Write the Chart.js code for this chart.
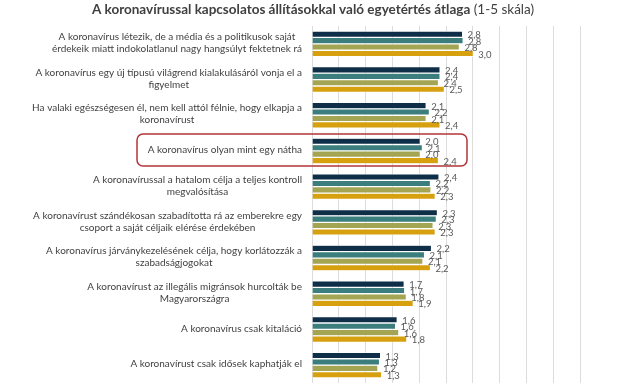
<!DOCTYPE html>
<html>
<head>
<meta charset="utf-8">
<script src="https://cdn.jsdelivr.net/npm/chart.js@4"></script>
<style>
html,body{margin:0;padding:0;background:#fff;overflow:hidden;}
#wrap{width:640px;height:384px;position:relative;}
</style>
</head>
<body>
<div id="wrap"><canvas id="c" width="640" height="384"></canvas></div>
<script>
const titleBold = "A koronavírussal kapcsolatos állításokkal való egyetértés átlaga";
const titleNormal = " (1-5 skála)";
const categories = [
  ["A koronavírus létezik, de a média és a politikusok saját", "érdekeik miatt indokolatlanul nagy hangsúlyt fektetnek rá"],
  ["A koronavírus egy új típusú világrend kialakulásáról vonja el a", "figyelmet"],
  ["Ha valaki egészségesen él, nem kell attól félnie, hogy elkapja a", "koronavírust"],
  ["A koronavírus olyan mint egy nátha"],
  ["A koronavírussal a hatalom célja a teljes kontroll", "megvalósítása"],
  ["A koronavírust szándékosan szabadította rá az emberekre egy", "csoport a saját céljaik elérése érdekében"],
  ["A koronavírus járványkezelésének célja, hogy korlátozzák a", "szabadságjogokat"],
  ["A koronavírust az illegális migránsok hurcolták be", "Magyarországra"],
  ["A koronavírus csak kitaláció"],
  ["A koronavírust csak idősek kaphatják el"]
];
const series1 = [2.81, 2.39, 2.13, 2.02, 2.37, 2.34, 2.23, 1.72, 1.59, 1.28];
const series2 = [2.82, 2.39, 2.19, 2.06, 2.21, 2.32, 2.10, 1.73, 1.56, 1.26];
const series3 = [2.75, 2.36, 2.13, 2.02, 2.22, 2.26, 2.07, 1.76, 1.62, 1.23];
const series4 = [3.01, 2.47, 2.39, 2.36, 2.30, 2.30, 2.21, 1.89, 1.77, 1.30];
const seriesNames = ["1. sorozat", "2. sorozat", "3. sorozat", "4. sorozat"];
const xTicks = [0, 0.5, 1, 1.5, 2, 2.5, 3, 3.5, 4, 4.5, 5];
const highlightIndex = 3;

const colors = ["#0f2e48", "#3b7e7d", "#a3a553", "#d6a00f"];
const fmt = v => v.toFixed(1).replace('.', ',');

const titlePlugin = {
  id: 'titleP',
  afterDraw(chart) {
    const ctx = chart.ctx;
    ctx.save();
    ctx.textBaseline = 'middle';
    ctx.fillStyle = '#404040';
    const fb = "bold 13.5px Lato";
    const fn = "13.5px Lato";
    ctx.font = fb; const wb = ctx.measureText(titleBold).width;
    ctx.font = fn; const wn = ctx.measureText(titleNormal).width;
    let x = 313 - (wb + wn) / 2;
    ctx.textAlign = 'left';
    ctx.font = fb; ctx.fillText(titleBold, x, 10);
    ctx.font = fn; ctx.fillText(titleNormal, x + wb, 10);
    ctx.restore();
  }
};

const labelsPlugin = {
  id: 'catLabels',
  afterDraw(chart) {
    const ctx = chart.ctx;
    const ys = chart.scales.y;
    ctx.save();
    ctx.font = "10px Lato";
    ctx.fillStyle = '#3f3f3f';
    ctx.textBaseline = 'middle';
    ctx.textAlign = 'center';
    const lh = 12;
    categories.forEach((lines, i) => {
      const cy = ys.getPixelForValue(i) - 1;
      let w = 0;
      lines.forEach(l => { w = Math.max(w, ctx.measureText(l).width); });
      const cx = 302 - w / 2;
      const y0 = cy - (lines.length - 1) * lh / 2;
      lines.forEach((l, k) => ctx.fillText(l, cx, y0 + k * lh));
    });
    // highlight box
    const cy = ys.getPixelForValue(highlightIndex);
    const top = cy - 17, bot = cy + 15, left = 137, right = 467, r = 6;
    ctx.strokeStyle = '#b3343a';
    ctx.lineWidth = 1.5;
    ctx.beginPath();
    ctx.moveTo(left + r, top);
    ctx.lineTo(right - r, top);
    ctx.arcTo(right, top, right, top + r, r);
    ctx.lineTo(right, bot - r);
    ctx.arcTo(right, bot, right - r, bot, r);
    ctx.lineTo(left + r, bot);
    ctx.arcTo(left, bot, left, bot - r, r);
    ctx.lineTo(left, top + r);
    ctx.arcTo(left, top, left + r, top, r);
    ctx.closePath();
    ctx.stroke();
    ctx.restore();
  }
};

const valuePlugin = {
  id: 'valLabels',
  afterDatasetsDraw(chart) {
    const ctx = chart.ctx;
    ctx.save();
    ctx.font = "9.5px Lato";
    ctx.fillStyle = '#595959';
    ctx.textBaseline = 'middle';
    ctx.textAlign = 'left';
    chart.data.datasets.forEach((ds, di) => {
      const meta = chart.getDatasetMeta(di);
      meta.data.forEach((el, i) => {
        ctx.fillText(fmt(ds.data[i]), el.x + 5, el.y + 1);
      });
    });
    ctx.restore();
  }
};

new Chart(document.getElementById('c'), {
  type: 'bar',
  data: {
    labels: categories,
    datasets: [series1, series2, series3, series4].map((d, i) => ({
      label: seriesNames[i],
      data: d,
      backgroundColor: colors[i],
      borderColor: '#ffffff',
      borderWidth: 0.6,
      barPercentage: 0.98,
      categoryPercentage: 0.72
    }))
  },
  options: {
    indexAxis: 'y',
    responsive: false,
    animation: false,
    layout: { padding: { top: 26, right: 60, bottom: 1, left: 0 } },
    plugins: { legend: { display: false }, title: { display: false }, tooltip: { enabled: false } },
    scales: {
      x: {
        min: 0, max: 5,
        afterBuildTicks(scale) { scale.ticks = xTicks.map(v => ({ value: v })); },
        ticks: { display: false },
        grid: { color: '#dcdcdc', drawTicks: false, lineWidth: 1 },
        border: { display: false }
      },
      y: {
        ticks: { display: false },
        grid: { display: false, drawTicks: false },
        border: { display: false },
        afterFit(scale) { scale.width = 312; }
      }
    }
  },
  plugins: [titlePlugin, labelsPlugin, valuePlugin]
});
</script>
</body>
</html>
